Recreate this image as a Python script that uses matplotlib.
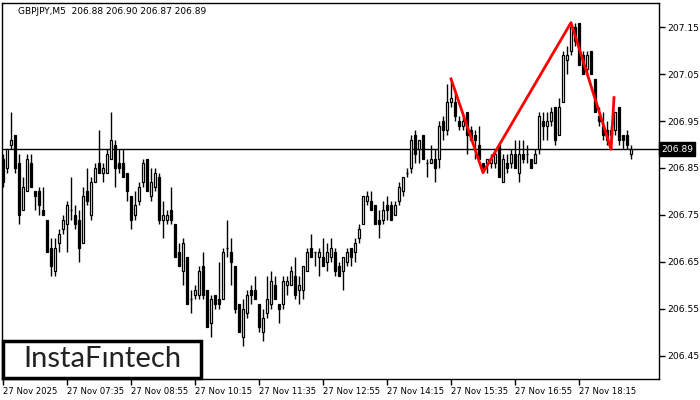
import matplotlib
matplotlib.use("Agg")
import matplotlib.pyplot as plt
from matplotlib.patches import Rectangle

# GBPJPY M5 candles (open, high, low, close)
opens = [206.87, 206.85, 206.90, 206.92, 206.86, 206.76, 206.80, 206.86, 206.80, 206.80,
         206.76, 206.74, 206.68, 206.63, 206.69, 206.72, 206.73, 206.76, 206.75, 206.74,
         206.69, 206.80, 206.75, 206.82, 206.86, 206.84, 206.84, 206.87, 206.90, 206.86,
         206.86, 206.84, 206.79, 206.75, 206.78, 206.82, 206.87, 206.79, 206.81, 206.83,
         206.74, 206.74, 206.76, 206.73, 206.67, 206.63, 206.66, 206.57, 206.58, 206.58,
         206.64, 206.59, 206.52, 206.58, 206.57, 206.57, 206.68, 206.67, 206.64, 206.56,
         206.49, 206.54, 206.59, 206.59, 206.56, 206.50, 206.54, 206.56, 206.60, 206.56,
         206.56, 206.60, 206.60, 206.62, 206.59, 206.59, 206.63, 206.68, 206.67, 206.66,
         206.66, 206.65, 206.66, 206.67, 206.64, 206.63, 206.65, 206.68, 206.67, 206.70,
         206.73, 206.78, 206.78, 206.77, 206.74, 206.74, 206.77, 206.77, 206.75, 206.78,
         206.80, 206.84, 206.85, 206.92, 206.89, 206.92, 206.86, 206.86, 206.87, 206.87,
         206.95, 206.93, 206.99, 206.99, 206.95, 206.94, 206.97, 206.93, 206.92, 206.90,
         206.86, 206.86, 206.86, 206.86, 206.90, 206.82, 206.86, 206.86, 206.88, 206.84,
         206.88, 206.88, 206.87, 206.86, 206.89, 206.95, 206.94, 206.95, 206.98, 206.92,
         206.99, 207.08, 207.10, 207.15, 207.16, 207.09, 207.06, 207.10, 207.04, 206.96,
         206.94, 206.93, 206.92, 206.93, 206.98, 206.92, 206.92, 206.88]
highs = [206.88, 206.89, 206.97, 206.92, 206.88, 206.83, 206.88, 206.88, 206.80, 206.81,
         206.81, 206.74, 206.70, 206.70, 206.72, 206.75, 206.78, 206.83, 206.77, 206.76,
         206.81, 206.85, 206.83, 206.86, 206.93, 206.86, 206.89, 206.97, 206.91, 206.89,
         206.89, 206.84, 206.79, 206.80, 206.82, 206.87, 206.87, 206.85, 206.85, 206.84,
         206.78, 206.76, 206.81, 206.73, 206.69, 206.70, 206.66, 206.59, 206.60, 206.64,
         206.67, 206.59, 206.58, 206.58, 206.65, 206.68, 206.74, 206.70, 206.64, 206.56,
         206.57, 206.59, 206.60, 206.62, 206.56, 206.55, 206.62, 206.63, 206.62, 206.56,
         206.62, 206.62, 206.64, 206.66, 206.62, 206.64, 206.68, 206.71, 206.67, 206.68,
         206.70, 206.69, 206.70, 206.68, 206.65, 206.66, 206.68, 206.68, 206.70, 206.73,
         206.79, 206.80, 206.80, 206.77, 206.76, 206.78, 206.79, 206.78, 206.78, 206.82,
         206.83, 206.85, 206.92, 206.93, 206.91, 206.92, 206.87, 206.90, 206.89, 206.95,
         206.96, 207.03, 207.04, 207.01, 206.96, 206.96, 206.97, 206.94, 206.93, 206.94,
         206.86, 206.87, 206.88, 206.89, 206.90, 206.88, 206.88, 206.89, 206.91, 206.91,
         206.91, 206.90, 206.87, 206.89, 206.97, 206.97, 206.97, 206.98, 206.98, 207.00,
         207.10, 207.11, 207.16, 207.16, 207.16, 207.10, 207.10, 207.10, 207.04, 206.98,
         206.97, 206.95, 206.94, 206.97, 206.98, 206.92, 206.93, 206.90]
lows = [206.81, 206.84, 206.89, 206.84, 206.73, 206.76, 206.80, 206.81, 206.76, 206.75,
        206.75, 206.67, 206.62, 206.62, 206.67, 206.71, 206.67, 206.74, 206.72, 206.65,
        206.69, 206.77, 206.74, 206.82, 206.84, 206.82, 206.84, 206.87, 206.81, 206.84,
        206.83, 206.78, 206.72, 206.74, 206.77, 206.81, 206.80, 206.78, 206.80, 206.73,
        206.70, 206.73, 206.73, 206.66, 206.64, 206.60, 206.56, 206.54, 206.57, 206.57,
        206.57, 206.51, 206.49, 206.55, 206.55, 206.57, 206.66, 206.60, 206.54, 206.50,
        206.47, 206.53, 206.56, 206.57, 206.50, 206.48, 206.53, 206.55, 206.57, 206.52,
        206.55, 206.58, 206.60, 206.57, 206.56, 206.57, 206.63, 206.66, 206.64, 206.62,
        206.64, 206.63, 206.65, 206.62, 206.62, 206.59, 206.64, 206.64, 206.65, 206.69,
        206.73, 206.77, 206.76, 206.73, 206.70, 206.73, 206.74, 206.74, 206.75, 206.77,
        206.79, 206.83, 206.84, 206.86, 206.86, 206.87, 206.83, 206.86, 206.82, 206.85,
        206.91, 206.92, 206.98, 206.95, 206.93, 206.93, 206.88, 206.91, 206.87, 206.87,
        206.84, 206.84, 206.85, 206.85, 206.83, 206.82, 206.84, 206.85, 206.85, 206.82,
        206.86, 206.86, 206.85, 206.86, 206.88, 206.91, 206.91, 206.94, 206.90, 206.92,
        206.99, 207.05, 207.09, 207.11, 207.07, 207.05, 207.05, 207.05, 206.97, 206.94,
        206.91, 206.90, 206.89, 206.92, 206.90, 206.89, 206.89, 206.87]
closes = [206.82, 206.89, 206.91, 206.85, 206.75, 206.81, 206.87, 206.81, 206.79, 206.77,
          206.75, 206.67, 206.64, 206.68, 206.71, 206.74, 206.77, 206.76, 206.73, 206.68,
          206.79, 206.78, 206.82, 206.85, 206.84, 206.85, 206.88, 206.91, 206.85, 206.85,
          206.83, 206.80, 206.74, 206.77, 206.81, 206.86, 206.80, 206.82, 206.84, 206.74,
          206.75, 206.75, 206.74, 206.66, 206.64, 206.69, 206.56, 206.57, 206.59, 206.63,
          206.58, 206.51, 206.57, 206.56, 206.56, 206.67, 206.68, 206.65, 206.55, 206.50,
          206.55, 206.58, 206.58, 206.57, 206.51, 206.53, 206.57, 206.61, 206.57, 206.55,
          206.61, 206.61, 206.63, 206.58, 206.60, 206.64, 206.67, 206.66, 206.67, 206.67,
          206.64, 206.67, 206.68, 206.63, 206.62, 206.66, 206.67, 206.66, 206.69, 206.72,
          206.79, 206.79, 206.76, 206.73, 206.73, 206.76, 206.76, 206.74, 206.77, 206.81,
          206.83, 206.84, 206.91, 206.88, 206.91, 206.87, 206.86, 206.87, 206.85, 206.94,
          206.93, 206.99, 207.00, 206.96, 206.94, 206.95, 206.92, 206.91, 206.91, 206.87,
          206.85, 206.87, 206.87, 206.88, 206.83, 206.87, 206.85, 206.88, 206.85, 206.88,
          206.87, 206.88, 206.85, 206.88, 206.96, 206.94, 206.95, 206.97, 206.91, 206.98,
          207.09, 207.09, 207.15, 207.12, 207.07, 207.05, 207.09, 207.05, 206.97, 206.95,
          206.92, 206.91, 206.93, 206.97, 206.91, 206.91, 206.90, 206.89]

# red pattern line (candle index, price)
pattern_idx = [112, 120, 142, 152, 152.75]
pattern_price = [207.04, 206.84, 207.16, 206.89, 207.00]

last_price = 206.89
price_ticks = [207.15, 207.05, 206.95, 206.85, 206.75, 206.65, 206.55, 206.45]
time_tick_idx = [0, 16, 32, 48, 64, 80, 96, 112, 128, 144]
time_tick_labels = ["27 Nov 2025", "27 Nov 07:35", "27 Nov 08:55", "27 Nov 10:15",
                    "27 Nov 11:35", "27 Nov 12:55", "27 Nov 14:15", "27 Nov 15:35",
                    "27 Nov 16:55", "27 Nov 18:15"]

W, H = 700, 400
fig = plt.figure(figsize=(7, 4), dpi=100)
# plot area in pixels: x 2..659, y 3..379 (from top)
ax = fig.add_axes([2 / W, 1 - 379 / H, 657 / W, 376 / H])

# candles: wicks first, bodies on top
body_w = 0.7
for i in range(len(opens)):
    o, h, l, c = opens[i], highs[i], lows[i], closes[i]
    ax.vlines(i, l, h, color="black", linewidth=1, zorder=2)
    if abs(c - o) < 1e-9:
        ax.hlines(o, i - body_w / 2, i + body_w / 2, color="black", linewidth=1, zorder=3)
    else:
        face = "white" if c > o else "black"
        ax.add_patch(Rectangle((i - body_w / 2, min(o, c)), body_w, abs(c - o),
                               facecolor=face, edgecolor="black", linewidth=0.9, zorder=3))

# current price line and pattern
ax.axhline(last_price, color="black", linewidth=1, zorder=1)
ax.plot(pattern_idx, pattern_price, color="#ff0000", linewidth=2, zorder=4)

ax.set_xlim(-0.25, 164)
ax.set_ylim(206.400, 207.2018)

for s in ax.spines.values():
    s.set_color("black")
    s.set_linewidth(1)

ax.yaxis.tick_right()
ax.set_yticks(price_ticks)
ax.set_yticklabels([f"{p:.2f}" for p in price_ticks], fontsize=6.6, family="DejaVu Sans")
ax.tick_params(axis="y", length=4, width=1, pad=2, colors="black")

ax.set_xticks(time_tick_idx)
ax.set_xticklabels(time_tick_labels, fontsize=6.1, family="DejaVu Sans", ha="left")
ax.tick_params(axis="x", length=4, width=1, pad=2, colors="black")

# last price box on the price scale
ax.text(1.003, last_price, f"{last_price:.2f}", transform=ax.get_yaxis_transform(),
        ha="left", va="center", fontsize=6.6, color="white", zorder=10,
        bbox=dict(boxstyle="square,pad=0.25", facecolor="black", edgecolor="black"))

# header text
fig.text(18 / W, 1 - 11 / H, "GBPJPY,M5  206.88 206.90 206.87 206.89",
         fontsize=6.5, va="center", ha="left", color="black")

# logo box
fig.add_artist(Rectangle((3 / W, 1 - 378 / H), 198 / W, 37 / H, transform=fig.transFigure,
                         facecolor="white", edgecolor="black", linewidth=2.5, zorder=20))
fig.text(102 / W, 1 - 359 / H, "InstaFıntech", fontsize=21, color="#222222",
         ha="center", va="center", family="Lato", zorder=21)

fig.savefig("out.png", dpi=100)
